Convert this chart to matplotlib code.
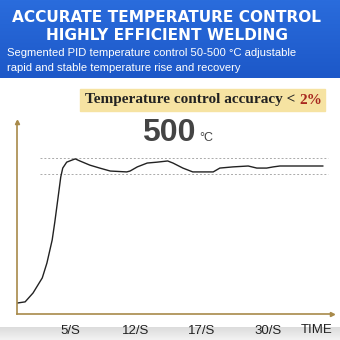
import numpy as np
import matplotlib.pyplot as plt
from matplotlib.patches import Rectangle
from matplotlib.colors import LinearSegmentedColormap

# curve (time position, temperature)
time_pos = [0.20, 0.32, 0.44, 0.58, 0.65, 0.73, 0.77, 0.82, 0.86, 0.89, 0.95,
            1.03, 1.08, 1.15, 1.30, 1.45, 1.61, 1.86, 1.91, 2.02, 2.17, 2.32,
            2.48, 2.56, 2.71, 2.86, 3.08, 3.17, 3.27, 3.47, 3.70, 3.83, 3.98,
            4.08, 4.18, 4.48, 4.83]
temp = [37, 41, 71, 122, 172, 250, 311, 395, 463, 493, 513,
        520, 524, 517, 503, 493, 483, 480, 483, 497, 510, 513,
        517, 510, 493, 480, 480, 480, 493, 497, 500, 493, 493,
        497, 500, 500, 500]
band = [473, 527]
tick_pos = [1, 2, 3, 4]
tick_labels = ['5/S', '12/S', '17/S', '30/S']

W = H = 340
fig = plt.figure(figsize=(3.4, 3.4), dpi=100)
bg = fig.add_axes([0, 0, 1, 1])
bg.set_xlim(0, W)
bg.set_ylim(H, 0)
bg.axis('off')

# blue banner
grad = np.linspace(0, 1, 50).reshape(-1, 1)
cm = LinearSegmentedColormap.from_list('b', ['#2a6cdc', '#1d58c8'])
bg.imshow(grad, extent=(0, W, 78, 0), cmap=cm, aspect='auto', zorder=0)
bg.text(166.5, 18, 'ACCURATE TEMPERATURE CONTROL', color='white', fontsize=11.1,
        fontweight='bold', ha='center', va='center')
bg.text(166.5, 35, 'HIGHLY EFFICIENT WELDING', color='white', fontsize=11.1,
        fontweight='bold', ha='center', va='center')
bg.text(7, 53, 'Segmented PID temperature control 50-500 °C adjustable',
        color='white', fontsize=8.1, ha='left', va='center', family='Liberation Sans')
bg.text(7, 68, 'rapid and stable temperature rise and recovery',
        color='white', fontsize=8.1, ha='left', va='center', family='Liberation Sans')

# bottom grey strip
grad2 = np.linspace(0, 1, 20).reshape(-1, 1)
cm2 = LinearSegmentedColormap.from_list('g', ['#dcdcdc', '#f2f2f2'])
bg.imshow(grad2, extent=(0, W, H, 327), cmap=cm2, aspect='auto', zorder=0)

# yellow label box
bg.add_patch(Rectangle((80, 89), 245, 22, color='#f6e3a2', zorder=1))
t = bg.text(85, 100, 'Temperature control accuracy < ', color='#222222', fontsize=11,
            fontweight='bold', family='Liberation Serif', ha='left', va='center', zorder=2)
fig.canvas.draw()
bb = t.get_window_extent().transformed(bg.transData.inverted())
bg.text(bb.x1, 100, '2%', color='#a8281e', fontsize=11, fontweight='bold',
        family='Liberation Serif', ha='left', va='center', zorder=2)

bg.text(169, 133, '500', color='#444444', fontsize=23, fontweight='bold',
        ha='center', va='center', family='Liberation Sans')
bg.text(199, 141, '°C', color='#444444', fontsize=9, ha='left', va='baseline',
        family='Liberation Sans')

# chart
ax = fig.add_axes([17 / W, 1 - 314 / H, (332 - 17) / W, (314 - 122) / H])
ax.patch.set_alpha(0)
ax.set_xlim((17 - 4) / 66, (332 - 4) / 66)
ax.set_ylim(0, (314 - 122) * 500 / 148)
for s in ['top', 'right']:
    ax.spines[s].set_visible(False)
for s in ['left', 'bottom']:
    ax.spines[s].set_color('#a88a4a')
    ax.spines[s].set_linewidth(1.2)
ax.plot(1, 0, '>', color='#a88a4a', ms=3, transform=ax.transAxes, clip_on=False)
ax.plot(0, 1, '^', color='#a88a4a', ms=3, transform=ax.transAxes, clip_on=False)

for b in band:
    ax.plot([0.55, 4.91], [b, b], ls=(0, (2, 2)), color='#aaaaaa', lw=0.7)
ax.plot(time_pos, temp, color='#222222', lw=1.0)

ax.set_yticks([])
ax.set_xticks(tick_pos)
ax.set_xticklabels(tick_labels, family='Liberation Sans', fontsize=9.5, color='#222222')
ax.tick_params(axis='x', length=0, pad=8)
ax.text(4.74, -16 * 500 / 148, 'TIME', family='Liberation Sans', fontsize=9.5,
        color='#222222', ha='center', va='center')

fig.savefig('out.png', dpi=100)
